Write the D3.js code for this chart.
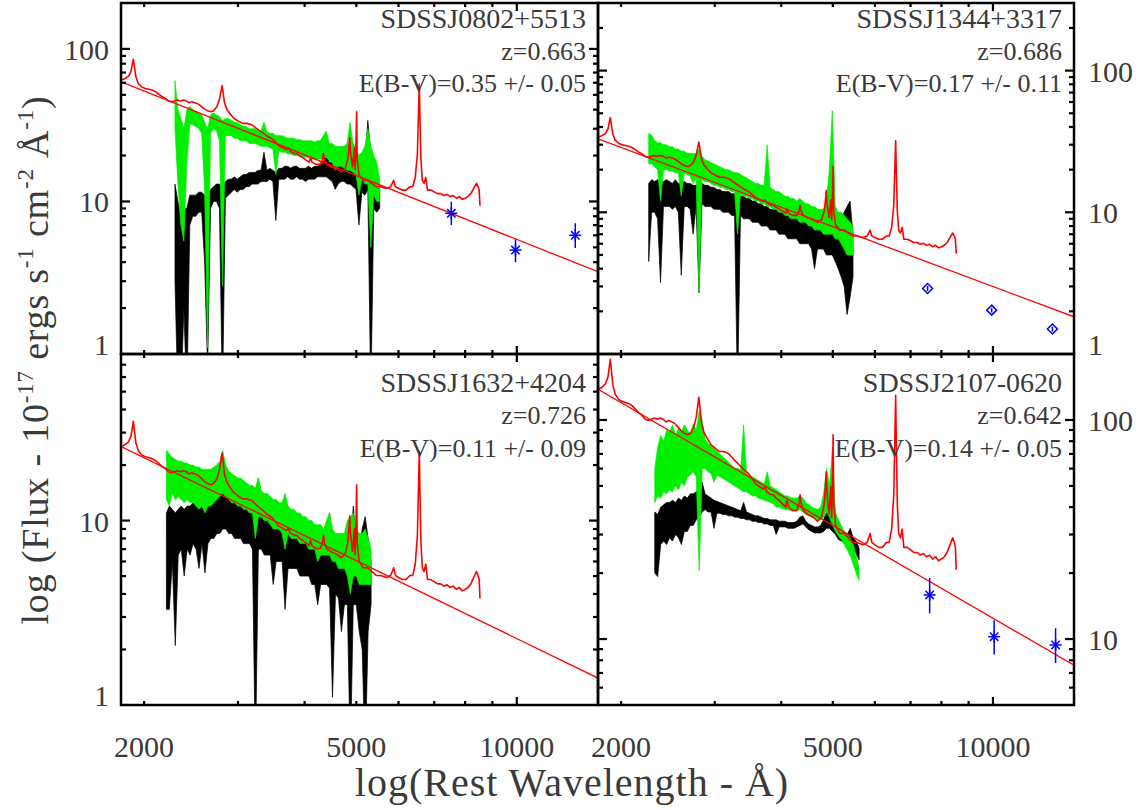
<!DOCTYPE html>
<html><head><meta charset="utf-8">
<script src="https://cdn.jsdelivr.net/npm/d3@7"></script>
<style>
body{margin:0;background:#fff}
svg{display:block}
text{font-family:"Liberation Serif","Times New Roman",serif;fill:#3a3a3a}
</style>
</head><body><svg id="c" width="1144" height="810"></svg>
<script>
// ---------------- data ----------------
const panelNames = ["SDSSJ0802+5513","SDSSJ1344+3317","SDSSJ1632+4204","SDSSJ2107-0620"];
const redshiftLabels = ["z=0.663","z=0.686","z=0.726","z=0.642"];
const reddeningLabels = ["E(B-V)=0.35 +/- 0.05","E(B-V)=0.17 +/- 0.11","E(B-V)=0.11 +/- 0.09","E(B-V)=0.14 +/- 0.05"];
const waveDomain = [1810, 14200];
const fluxDomains = [[1,200],[1,300],[1,80],[5,200]];
const xTickLabels = [2000, 5000, 10000];
const yTickLabels = [[1,10,100],[1,10,100],[1,10],[10,100]];
// rest-frame wavelength range covered by each SDSS spectrum (samples evenly spaced in log wavelength)
const specRanges = [[2285,5532],[2254,5457],[2202,5330],[2314,5603]];

// observed spectra (black): lower and upper edge of the noisy trace
const observedLow = [
[3,0.5,0.5,2,0.5,7,8,8,8.5,8.5,4,0.8,9,10,10,9,0.5,10.5,11,11.5,12,11.5,12,12,12.5,12.5,13,13,13,13.5,13.5,13.5,14,13.5,7.5,14,14,14,14.5,14,14,14.5,14,14,13.5,14,14,14,14.5,14.5,14.5,14.5,14,13.5,12,13,13.5,13.5,13,13,12.5,12,7,11.5,11,12,0.5,9,8.5,9],
[4.5,10,10,9,3.2,11,11,11,10.5,11,10,3.6,11,11,10.5,7,11,2.7,11.5,11,11,11,10.5,10.5,10.5,10,10,10,9.5,9.5,0.5,9.5,9,9,9,8.5,8.5,8.5,8,8,8,7.5,7.5,7.5,7,7,7,6.5,6.5,6.5,6.5,6,6,6,6,5.5,4,5.5,5.5,5.5,5,5,5,4.5,4,3.5,3,1.9,2.5,3.5],
[3.3,3.3,6,2.1,6.5,7,5,7,6.5,7.5,7,5.5,7.5,5.2,7.5,8,8,8.5,8.5,9,9,8.5,8.5,8,8,8,7.5,7.5,7.5,7,0.5,7,7,6.5,6.5,6.5,4.5,6,6,6,3.3,5.5,5.5,5.5,5.5,5,5,5,5,4.5,4.5,3.5,4.5,4.5,4.5,4.3,1.1,4,3.8,2.5,3.5,3.5,0.5,3.5,3.5,2.5,2,0.5,2.5,3.5],
[20,19.3,27,28,27,29,28,30,29,27,31,31,33,33,35,36,38,39,38,38,32,37.5,37.5,37,37,36.5,36.5,36,36,35.5,35.5,35,35,34.5,34.5,34,34,33.5,33.5,33,33,30,32.5,32.5,32.5,32,32,32,32.5,33,33.5,32.5,31.5,31,30.5,30.5,30.5,31,32,32,31,30,28.5,28,27.5,27,26.5,26,24.5,23]
];
const observedHigh = [
[13,10,8,9,9,11,11,11,11.5,11.5,11,10,12,12.5,13,13,12,13.5,14,14,14.5,14,14.5,15,15,15.5,15.5,15.5,16,16,21,16,16.5,16,15.5,16.5,16.5,17,17,16.5,17,17,16.5,16.5,16.5,17,16.5,17,17,17.5,18,21,18,18,17,17,17.5,17,18,26,17,17,15,16,18,34,20,17,15,12],
[16,17,16.5,17,16,16.5,17,16.5,16,17,16,16,16.5,16,16,15.5,15.5,16,16,15.5,15.5,15,15,14.5,14.5,14,14,14,13.5,13.5,13,13,13,12.5,12.5,12,12,11.5,11.5,11,11,10.5,10.5,10.5,10,10,10,9.5,9.5,9.5,9,9,9.5,9,8.5,8.5,8.5,8,8,8,9,10,22,8,8,9,10,11,12,7],
[11,12,11.5,11,11.5,12,11.5,12,12,12.5,12.5,12,12.5,12.5,13,13,13.5,14,15,18,14,13.5,13,13,12.5,12.5,12,12,11.5,11.5,12,17,11,10.5,10.5,10,10,10,9.5,9.5,13,9.5,9,9,8.5,8.5,8.5,8,8,8,7.5,7.5,7.5,7,8,11,7,6.5,6.5,6.5,6.5,7,6.5,12,7.5,7,9,10.5,8,6],
[38,37,40,41,42,42,43,42,44,43,45,44,46,46,47,48,52,46,45,44,43,42.5,42,41.5,41,40.5,40,39.5,39,38.5,42,38,37.5,37,36.5,36.5,36,35.5,35.5,35,35,35,34.5,34.5,34.5,34,34,34,34.5,36,36.5,34.5,33.5,33,32.5,32.5,33,35,38,39,36,34,32,31,30.5,30,32,29,28,26]
];
// dereddened spectra (green): lower and upper edge of the noisy trace
const dereddenedLow = [
[30,13,7,5.5,18,32,32,31,30,28,12,1.1,28,30,29,25,2.8,27,27,27,26,26,25,25,25,24,24,24,23.5,23,23,23,22.5,22,15,21.5,21,21,20.5,20.5,20,20,20,19.5,19.5,19.5,19,19,19,19,19,19.5,18.5,18,16,17,17,16.5,16,16,15.5,15,11,14,13,13,5,11,10,10],
[22,22,21,20,12,20,20,19.5,19.5,19,19,13,19,18.5,18,16,17.5,2.7,17,16.5,16.5,16,15.5,15.5,15,15,14.5,14.5,14,14,7,13.5,13,13,12.5,12.5,12,12,11.5,11.5,11,11,10.5,10.5,10,10,9.5,9.5,9,9,9,8.5,8.5,8.5,8,8,7.5,7.5,7.5,7,7,7,7,6.5,6.5,6,5.5,5,5,5],
[13,12,14,13,13.5,13,12.5,13,12.5,12.5,12,11.5,12,11,12,12,12.5,13,13.5,14,13.5,13,12.5,12.5,12,12,11.5,11.5,11,11,8,10.5,10.5,10,10,9.5,9,9,9,8.5,7,8.5,8,8,8,7.5,7.5,7.5,7,7,7,6,6.5,6.5,6.5,6.5,6,6,5.5,5.5,5.5,5,4,5,5,4.5,4.5,4.5,4.5,4.5],
[42,45,44,47,46,48,47,50,48,52,50,55,56,58,55,20.5,60,60,58,57,52,56,55,54,53,52,51,50,49,48,47,47,46,45,45,44,43.5,43,42.5,42,41.5,40,40,39.5,39,39,38.5,38.5,38.5,39,38,37,36.5,36,35.5,35,35,36,38,36,33,31,29.5,28.5,27,25.5,24,22,20,18.5]
];
const dereddenedHigh = [
[62,40,35,30,40,42,40,39,38,37,33,30,37,38,37,36,34,35,35,34,33,33,32,31,31,30,30,30,29,29,33,28.5,28,28,27,27,27,26.5,26,26,26,25.5,25.5,25,25,25,25,24.5,25,25,27,29,24,24,23,23,23,23,24,33,24,22,20,21,23,30,23,20,18,14],
[36,35,32,31,31,30,30,29,29,28,28,27,27,26,26,26,26,28,25,23.5,23,22.5,22,21.5,21,20.5,20,20,19.5,19,19,18.5,18,17.5,17,16.5,16,16,15.5,15.5,30,15,14.5,14,14,13.5,13,13,12.5,12.5,12,12.5,12,11.5,11.5,11,11,10.5,10.5,10.5,12,20,52,11,10,10,9.5,9,8.5,8],
[24,23,22,21.5,21,21,20.5,20.5,20,20,19.5,19.5,19,19,19,19,19.5,20,21,24,20,18.5,18,17.5,17,17,16.5,16,15.5,15.5,15,17,14.5,14,14,13.5,13,13,12.5,12.5,14,12,11.5,11.5,11,11,10.5,10.5,10,10,9.5,9.5,9.5,9,10,11,9,8.5,8.5,8.5,8.5,10,10.5,11,9,8.5,8.5,9,8,7],
[60,75,85,80,90,88,95,85,92,88,95,90,86,96,90,110,100,82,78,76,74,72,70,68,66,64,62,60,60,59,95,57,56,55,54,53,52,51,58,50,49,48,47,46,45,45,44,44,44,45,44,42,41,40,39.5,39,40,46,60,50,75,38,35,33,31,30,29,27,24,21]
];

// composite quasar template (red), relative flux, scaled per object
const templateWave = [1810,1840,1870,1890,1900,1909,1918,1930,1950,1980,2010,2040,2070,2100,2130,2160,2190,2220,2250,2280,2310,2340,2370,2400,2430,2460,2490,2520,2550,2590,2630,2670,2700,2740,2770,2790,2800,2812,2830,2860,2900,2950,3000,3060,3120,3180,3230,3280,3340,3400,3440,3480,3530,3580,3640,3700,3727,3760,3830,3870,3900,3970,4020,4080,4102,4130,4200,4280,4320,4340,4360,4400,4470,4540,4600,4680,4760,4820,4850,4861,4875,4920,4959,4975,4995,5007,5020,5060,5150,5250,5350,5450,5550,5700,5800,5876,5920,6000,6100,6200,6300,6380,6450,6510,6540,6563,6580,6610,6650,6700,6750,6800,6900,7000,7100,7200,7300,7400,7500,7600,7700,7800,7900,8000,8100,8200,8300,8400,8460,8500,8530];
const templateFlux = [1.00,1.02,1.06,1.14,1.26,1.37,1.22,1.05,0.95,0.90,0.88,0.87,0.86,0.84,0.81,0.78,0.76,0.73,0.72,0.73,0.74,0.73,0.74,0.73,0.71,0.72,0.71,0.70,0.68,0.65,0.63,0.62,0.63,0.67,0.75,0.86,0.92,0.84,0.71,0.64,0.60,0.56,0.54,0.52,0.52,0.51,0.49,0.47,0.45,0.43,0.42,0.41,0.39,0.37,0.36,0.35,0.36,0.34,0.33,0.33,0.32,0.31,0.30,0.29,0.31,0.29,0.28,0.28,0.30,0.33,0.30,0.28,0.27,0.265,0.26,0.25,0.26,0.30,0.38,0.42,0.34,0.27,0.36,0.26,0.40,0.62,0.30,0.24,0.22,0.22,0.21,0.20,0.20,0.195,0.20,0.22,0.20,0.195,0.19,0.19,0.20,0.20,0.23,0.33,0.60,0.94,0.60,0.30,0.22,0.21,0.23,0.19,0.19,0.185,0.18,0.18,0.175,0.178,0.172,0.175,0.168,0.172,0.165,0.168,0.172,0.18,0.195,0.21,0.20,0.19,0.15];
const templateScale = [62.5, 34, 25.2, 138];

// power-law fit: flux at the two ends of the wavelength axis
const powerLawEnds = [[60.9,3.46],[33.0,1.83],[25.2,1.40],[138,7.6]];

// near-IR photometry (blue)
const photWave = [[7537,9944,12873],[7536,9944,12933],[],[7603,10052,13112]];
const photFlux = [[8.36,4.8,6.0],[2.90,2.04,1.50],[],[15.9,10.25,9.4]];
const photLow  = [[7.0,4.0,4.95],[2.78,1.96,1.44],[],[13.1,8.5,7.78]];
const photHigh = [[9.96,5.65,7.2],[3.02,2.12,1.56],[],[19.0,12.2,11.2]];
const photSymbol = ["asterisk","diamond","none","asterisk"];

// ---------------- layout ----------------
const colX = [[121,598],[598,1074]];
const rowY = [[3,354],[354,705]];
const svg = d3.select("#c");
const defs = svg.append("defs");

panelNames.forEach((name, k) => {
  const col = k % 2, row = Math.floor(k / 2);
  const [x0, x1] = colX[col], [y0, y1] = rowY[row];
  const x = d3.scaleLog().domain(waveDomain).range([x0, x1]);
  const y = d3.scaleLog().domain(fluxDomains[k]).range([y1, y0]);
  const clipId = "clip" + k;
  defs.append("clipPath").attr("id", clipId).append("rect")
    .attr("x", x0).attr("y", y0).attr("width", x1 - x0).attr("height", y1 - y0);
  const g = svg.append("g").attr("clip-path", `url(#${clipId})`);

  const line = d3.line().x(d => x(d[0])).y(d => y(d[1]));
  const [ls, le] = specRanges[k];
  const band = (lo, hi) => lo.map((v, i) => ({w: ls * Math.pow(le / ls, i / (lo.length - 1)), lo: v, hi: hi[i]}));
  const area = d3.area().x(d => x(d.w)).y0(d => y(d.lo)).y1(d => y(d.hi));

  [[observedLow[k], observedHigh[k], "#000"], [dereddenedLow[k], dereddenedHigh[k], "#00f000"]].forEach(([lo, hi, c]) => {
    g.append("path").attr("d", area(band(lo, hi))).attr("fill", c)
      .attr("stroke", c).attr("stroke-width", 0.7).attr("stroke-linejoin", "round");
  });
  g.append("path").attr("d", line(templateWave.map((w, i) => [w, templateFlux[i] * templateScale[k]])))
    .attr("fill", "none").attr("stroke", "#ff0000").attr("stroke-width", 1.6).attr("stroke-linejoin", "round");
  g.append("path").attr("d", line([[waveDomain[0], powerLawEnds[k][0]], [waveDomain[1], powerLawEnds[k][1]]]))
    .attr("fill", "none").attr("stroke", "#ff0000").attr("stroke-width", 1.3);

  // photometry
  photWave[k].forEach((w, i) => {
    const px = x(w), py = y(photFlux[k][i]);
    g.append("line").attr("x1", px).attr("x2", px).attr("y1", y(photLow[k][i])).attr("y2", y(photHigh[k][i]))
      .attr("stroke", "#0000ff").attr("stroke-width", 1.5);
    if (photSymbol[k] === "asterisk") {
      const s = 6;
      [[0, s], [s, 0], [s * 0.7, s * 0.7], [s * 0.7, -s * 0.7]].forEach(([dx, dy]) => {
        g.append("line").attr("x1", px - dx).attr("x2", px + dx).attr("y1", py - dy).attr("y2", py + dy)
          .attr("stroke", "#0000ff").attr("stroke-width", 1.5);
      });
    } else if (photSymbol[k] === "diamond") {
      const s = 5;
      g.append("path").attr("d", `M${px},${py - s}L${px + s},${py}L${px},${py + s}L${px - s},${py}Z`)
        .attr("fill", "none").attr("stroke", "#0000ff").attr("stroke-width", 1.5);
    }
  });

  // frame
  svg.append("rect").attr("x", x0).attr("y", y0).attr("width", x1 - x0).attr("height", y1 - y0)
    .attr("fill", "none").attr("stroke", "#000").attr("stroke-width", 2.5);

  // ticks
  const tg = svg.append("g").attr("stroke", "#000").attr("stroke-width", 2.2);
  x.ticks().filter(t => t > waveDomain[0] && t < waveDomain[1]).forEach(t => {
    const major = Math.abs(Math.log10(t) - Math.round(Math.log10(t))) < 1e-9;
    const len = major ? 8 : 4;
    tg.append("line").attr("x1", x(t)).attr("x2", x(t)).attr("y1", y1).attr("y2", y1 - len);
    tg.append("line").attr("x1", x(t)).attr("x2", x(t)).attr("y1", y0).attr("y2", y0 + len);
  });
  y.ticks().filter(t => t > fluxDomains[k][0] && t < fluxDomains[k][1]).forEach(t => {
    const major = Math.abs(Math.log10(t) - Math.round(Math.log10(t))) < 1e-9;
    const len = major ? 9 : 5;
    tg.append("line").attr("x1", x0).attr("x2", x0 + len).attr("y1", y(t)).attr("y2", y(t));
    tg.append("line").attr("x1", x1).attr("x2", x1 - len).attr("y1", y(t)).attr("y2", y(t));
  });

  // y tick labels
  yTickLabels[k].forEach(t => {
    const atBottom = t === fluxDomains[k][0];
    const ty = atBottom ? y(t) + 1 : y(t) + 11;
    svg.append("text").attr("x", col === 0 ? x0 - 12 : x1 + 14).attr("y", ty)
      .attr("text-anchor", col === 0 ? "end" : "start").attr("font-size", 30).text(t);
  });
  // x tick labels
  if (row === 1) {
    xTickLabels.forEach(t => {
      svg.append("text").attr("x", x(t)).attr("y", 757).attr("text-anchor", "middle")
        .attr("font-size", 30).text(t);
    });
  }
  // annotations
  const base = row === 0 ? [28, 60, 92] : [392, 424, 457];
  [name, redshiftLabels[k], reddeningLabels[k]].forEach((s, i) => {
    svg.append("text").attr("x", x1 - 12).attr("y", base[i]).attr("text-anchor", "end")
      .attr("font-size", i === 0 ? 28 : 26).text(s);
  });
});

// axis titles
svg.append("text").attr("x", 572).attr("y", 796).attr("text-anchor", "middle")
  .attr("font-size", 40).attr("letter-spacing", 1).text("log(Rest Wavelength - Å)");

const yt = svg.append("text").attr("transform", "translate(48,360) rotate(-90)")
  .attr("text-anchor", "middle").attr("font-size", 38).attr("letter-spacing", 0.8);
const parts = [["log (Flux - 10", false], ["-17", true], [" ergs s", false], ["-1", true],
  [" cm", false], ["-2", true], [" Å", false], ["-1", true], [")", false]];
let sup = false;
parts.forEach(([s, isSup]) => {
  const dy = isSup && !sup ? -15 : (!isSup && sup ? 15 : 0);
  yt.append("tspan").attr("dy", dy).attr("font-size", isSup ? 23 : 38).text(s);
  sup = isSup;
});
</script>
</body></html>
